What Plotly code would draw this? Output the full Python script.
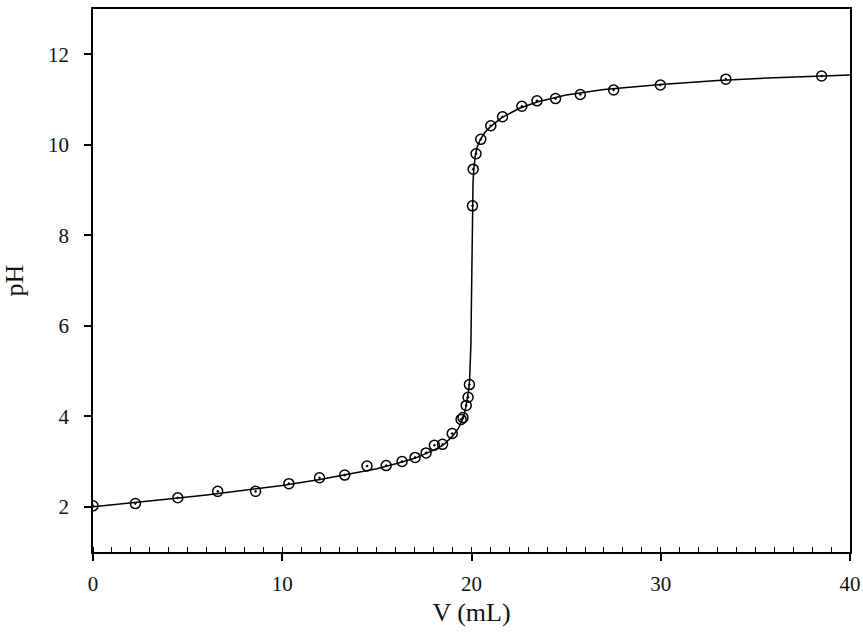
import plotly.graph_objects as go

# Measured titration data (volume of titrant, pH)
data_v = [0.0, 2.24, 4.48, 6.59, 8.59, 10.35, 11.97, 13.30, 14.48, 15.49, 16.33,
          17.02, 17.60, 18.04, 18.47, 18.98, 19.45, 19.55, 19.72, 19.82, 19.89,
          20.05, 20.09, 20.24, 20.49, 21.02, 21.64, 22.66, 23.46, 24.44, 25.75,
          27.51, 29.98, 33.44, 38.50]
data_ph = [2.02, 2.07, 2.20, 2.34, 2.34, 2.51, 2.64, 2.70, 2.90, 2.91, 3.00,
           3.09, 3.19, 3.36, 3.38, 3.62, 3.93, 3.97, 4.24, 4.42, 4.70,
           8.65, 9.46, 9.80, 10.12, 10.42, 10.62, 10.85, 10.97, 11.02, 11.11,
           11.21, 11.32, 11.45, 11.52]

# Fitted curve
curve_v = [0, 2, 4, 6, 8, 10, 12, 14, 15, 16, 17, 18, 18.5, 19, 19.3, 19.5,
           19.6, 19.7, 19.78, 19.85, 19.9, 19.94, 19.97, 19.99, 20.01, 20.03,
           20.05, 20.08, 20.12, 20.2, 20.3, 20.45, 20.7, 21.0, 21.3, 21.6,
           22.5, 23.5, 25, 27, 30, 33, 36, 40]
curve_ph = [2.0, 2.08, 2.17, 2.26, 2.36, 2.47, 2.6, 2.75, 2.84, 2.95, 3.07, 3.25,
            3.36, 3.56, 3.73, 3.9, 4.02, 4.2, 4.38, 4.58, 4.8, 5.1, 5.6, 6.3,
            7.4, 8.2, 8.7, 9.15, 9.45, 9.76, 9.95, 10.1, 10.27, 10.4, 10.5, 10.6,
            10.8, 10.95, 11.1, 11.22, 11.33, 11.42, 11.48, 11.54]

x_ticks = [0, 10, 20, 30, 40]
y_ticks = [2, 4, 6, 8, 10, 12]

font = "Liberation Serif, Times New Roman, serif"
text_color = "#111111"

fig = go.Figure()
fig.add_trace(go.Scatter(x=curve_v, y=curve_ph, mode="lines",
                         line=dict(color="black", width=1.5),
                         hoverinfo="skip", showlegend=False))
fig.add_trace(go.Scatter(x=data_v, y=data_ph, mode="markers",
                         marker=dict(symbol="circle-open-dot", size=10,
                                     color="black", line=dict(color="black", width=1.5)),
                         showlegend=False))

fig.update_layout(
    width=863, height=644, autosize=False,
    margin=dict(l=93, r=13, t=9, b=92, pad=0),
    plot_bgcolor="white", paper_bgcolor="white",
    font=dict(family=font, size=21, color=text_color),
    xaxis=dict(
        range=[0, 40], tickvals=x_ticks, ticktext=[str(t) for t in x_ticks],
        showgrid=False, zeroline=False, automargin=False,
        showline=True, linecolor="black", linewidth=1.5, mirror=True,
        ticks="outside", ticklen=7, tickwidth=1.5, tickcolor="black",
        ticklabelstandoff=5,
        minor=dict(ticks="inside", ticklen=5, tickwidth=1.3, tickcolor="black", dtick=1, showgrid=False),
        title=dict(text="V (mL)", font=dict(family=font, size=26, color=text_color), standoff=8),
    ),
    yaxis=dict(
        range=[1, 13], tickvals=y_ticks, ticktext=[str(t) for t in y_ticks],
        showgrid=False, zeroline=False, automargin=False,
        showline=True, linecolor="black", linewidth=1.5, mirror=True,
        ticks="outside", ticklen=7, tickwidth=1.5, tickcolor="black",
        ticklabelstandoff=11,
        title=dict(text="pH", font=dict(family=font, size=26, color=text_color), standoff=17),
    ),
)

fig.write_html("out.html")
